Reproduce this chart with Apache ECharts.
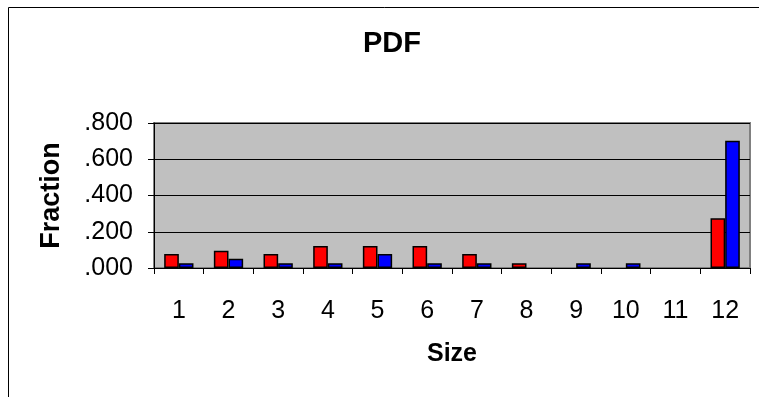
<!DOCTYPE html>
<html>
<head>
<meta charset="utf-8">
<script src="https://cdn.jsdelivr.net/npm/echarts@6/dist/echarts.min.js"></script>
<style>html,body{margin:0;padding:0;background:#fff;}#c{width:759px;height:397px;}</style>
</head>
<body>
<div id="c"></div>
<script>
var categories = ['1','2','3','4','5','6','7','8','9','10','11','12'];
var seriesA = [0.077, 0.095, 0.077, 0.121, 0.121, 0.121, 0.077, 0.026, 0, 0, 0, 0.274];
var seriesB = [0.026, 0.051, 0.026, 0.026, 0.077, 0.026, 0.026, 0, 0.026, 0.026, 0, 0.702];
var yTicks = [0, 0.2, 0.4, 0.6, 0.8];

function hideZero(arr) { return arr.map(function (v) { return v === 0 ? '-' : v; }); }

var chart = echarts.init(document.getElementById('c'), null, {renderer: 'canvas'});
var font = 'Liberation Sans, Arial, sans-serif';
chart.setOption({
  animation: false,
  backgroundColor: '#fff',
  title: {
    text: 'PDF', left: 358, top: 24,
    textStyle: {fontFamily: font, fontWeight: 'bold', fontSize: 29, color: '#000'}
  },
  graphic: [{
    type: 'rect', shape: {x: 8.5, y: 7.5, width: 900, height: 600},
    style: {fill: 'none', stroke: '#000', lineWidth: 1}, z: -10
  }],
  grid: {left: 154, top: 123, right: 9, bottom: 129, show: true, backgroundColor: '#C0C0C0', borderColor: '#808080', borderWidth: 2},
  xAxis: {
    type: 'category', data: categories,
    name: 'Size', nameLocation: 'middle', nameGap: 74,
    nameTextStyle: {fontFamily: font, fontWeight: 'bold', fontSize: 25, color: '#000'},
    axisLine: {lineStyle: {color: '#000', width: 1}},
    axisTick: {show: true, length: 6, lineStyle: {color: '#000'}},
    axisLabel: {margin: 31, fontFamily: font, fontSize: 25, color: '#000'},
    splitLine: {show: false}
  },
  yAxis: {
    type: 'value', min: 0, max: 0.8, interval: 0.2,
    name: 'Fraction', nameLocation: 'middle', nameGap: 89,
    nameTextStyle: {fontFamily: font, fontWeight: 'bold', fontSize: 27, color: '#000'},
    axisLine: {show: true, lineStyle: {color: '#000', width: 1}},
    axisTick: {show: true, length: 6, lineStyle: {color: '#000'}},
    axisLabel: {margin: 21, fontFamily: font, fontSize: 25, color: '#000',
      formatter: function (v) { return v.toFixed(3).replace(/^0/, ''); }},
    splitLine: {show: true, lineStyle: {color: '#000', width: 1}}
  },
  series: [{
    type: 'bar', data: hideZero(seriesA), barGap: '0%', barCategoryGap: '41%',
    itemStyle: {color: '#FF0000', borderColor: '#000', borderWidth: 1.5}
  }, {
    type: 'bar', data: hideZero(seriesB), barGap: '0%', barCategoryGap: '41%',
    itemStyle: {color: '#0000FF', borderColor: '#000', borderWidth: 1.5}
  }]
});
</script>
</body>
</html>
